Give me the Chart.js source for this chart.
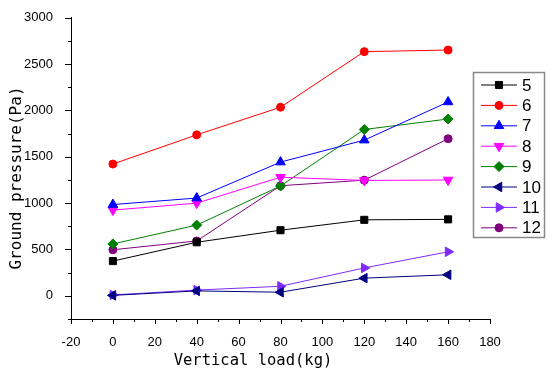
<!DOCTYPE html>
<html>
<head>
<meta charset="utf-8">
<script src="https://cdn.jsdelivr.net/npm/chart.js@4.4.0/dist/chart.umd.min.js"></script>
<style>
  html, body { margin: 0; padding: 0; background: #fff; }
  #wrap { width: 550px; height: 375px; }
</style>
</head>
<body>
<div id="wrap"><canvas id="chart" width="550" height="375"></canvas></div>
<script>
const loads = [0, 40, 80, 120, 160];
const xTicks = [-20, 0, 20, 40, 60, 80, 100, 120, 140, 160, 180];
const yTicks = [0, 500, 1000, 1500, 2000, 2500, 3000];

const seriesNames = ['5', '6', '7', '8', '9', '10', '11', '12'];
const s5 = [375, 578, 708, 820, 825];
const s6 = [1422, 1737, 2035, 2635, 2652];
const s7 = [985, 1055, 1443, 1680, 2092];
const s8 = [925, 1000, 1280, 1245, 1250];
const s9 = [560, 763, 1185, 1795, 1908];
const s10 = [5, 53, 39, 191, 227];
const s11 = [10, 62, 103, 301, 475];
const s12 = [497, 592, 1188, 1248, 1695];

const colors = ['#000000', '#ff0000', '#0000ff', '#ff00ff', '#008000', '#000080', '#7f2bff', '#800080'];
const shapes = ['rect', 'circle', 'triangle', 'triangle', 'rectRot', 'triangle', 'triangle', 'circle'];
const rotations = [0, 0, 0, 180, 0, -90, 90, 0];
const radii = [5, 4, 5.5, 5.5, 5, 5.5, 5.5, 4];

const allSeries = [s5, s6, s7, s8, s9, s10, s11, s12];

const datasets = allSeries.map((vals, i) => ({
    label: seriesNames[i],
    data: vals.map((v, j) => ({ x: loads[j], y: v })),
    borderColor: colors[i],
    backgroundColor: colors[i],
    borderWidth: 1,
    pointStyle: shapes[i],
    rotation: rotations[i],
    pointRadius: radii[i],
    pointBorderWidth: 1,
    tension: 0
}));

// tick marks (major + minor), axis titles and legend box drawn by hand
const decorPlugin = {
    id: 'decor',
    afterDraw(chart) {
        const ctx = chart.ctx;
        const xs = chart.scales.x, ys = chart.scales.y;
        const area = chart.chartArea;
        ctx.save();
        ctx.strokeStyle = '#000';
        ctx.lineWidth = 1;
        ctx.beginPath();
        xTicks.forEach((v, i) => {
            const px = Math.round(xs.getPixelForValue(v)) + 0.5;
            ctx.moveTo(px, area.bottom); ctx.lineTo(px, area.bottom + 5);
            if (i < xTicks.length - 1) {
                const mx = Math.round(xs.getPixelForValue((v + xTicks[i + 1]) / 2)) + 0.5;
                ctx.moveTo(mx, area.bottom); ctx.lineTo(mx, area.bottom + 3);
            }
        });
        yTicks.forEach((v, i) => {
            const py = Math.round(ys.getPixelForValue(v)) + 0.5;
            ctx.moveTo(area.left, py); ctx.lineTo(area.left - 6, py);
            if (i < yTicks.length - 1) {
                const my = Math.round(ys.getPixelForValue((v + yTicks[i + 1]) / 2)) + 0.5;
                ctx.moveTo(area.left, my); ctx.lineTo(area.left - 3, my);
            }
        });
        const ly = Math.round(ys.getPixelForValue(-250)) + 0.5;
        ctx.moveTo(area.left, ly); ctx.lineTo(area.left - 3, ly);
        ctx.stroke();

        // axis titles
        ctx.fillStyle = '#000';
        ctx.textAlign = 'center';
        ctx.textBaseline = 'middle';
        ctx.font = '15.5px "DejaVu Sans Mono"';
        ctx.fillText('Vertical load(kg)', 253, 361);
        ctx.translate(17, 178);
        ctx.rotate(-Math.PI / 2);
        ctx.font = '16px "DejaVu Sans Mono"';
        ctx.fillText('Ground pressure(Pa)', 0, 0);
        ctx.restore();

        // legend box
        ctx.save();
        ctx.fillStyle = '#fff';
        ctx.fillRect(473.5, 72.5, 71, 165);
        ctx.strokeStyle = '#888';
        ctx.lineWidth = 1.5;
        ctx.strokeRect(473.5, 72.5, 71, 165);
        chart.data.datasets.forEach((ds, i) => {
            const y = 85 + i * 20.4;
            ctx.strokeStyle = ds.borderColor;
            ctx.lineWidth = 1;
            ctx.beginPath();
            ctx.moveTo(481, y); ctx.lineTo(517, y);
            ctx.stroke();
            ctx.fillStyle = ds.backgroundColor;
            Chart.helpers.drawPoint(ctx, {
                pointStyle: ds.pointStyle, rotation: ds.rotation,
                radius: ds.pointRadius, borderWidth: 1
            }, 499, y);
            ctx.fillStyle = '#000';
            ctx.font = '17px "Liberation Sans", Arial';
            ctx.textAlign = 'left';
            ctx.textBaseline = 'middle';
            ctx.fillText(ds.label, 522, y + 1);
        });
        ctx.restore();
    }
};

new Chart(document.getElementById('chart').getContext('2d'), {
    type: 'line',
    data: { datasets: datasets },
    options: {
        responsive: false,
        animation: false,
        layout: { padding: { left: 0, top: 13, right: 60, bottom: 0 } },
        plugins: {
            legend: { display: false },
            tooltip: { enabled: false }
        },
        scales: {
            x: {
                type: 'linear',
                min: -20,
                max: 180,
                afterBuildTicks: s => { s.ticks = xTicks.map(v => ({ value: v })); },
                afterFit: s => { s.height = 56; },
                grid: { display: false },
                border: { display: true, color: '#000', width: 1 },
                ticks: {
                    padding: 8,
                    maxRotation: 0,
                    color: '#000',
                    callback: v => String(v),
                    font: { family: '"Liberation Sans", Arial', size: 13 }
                }
            },
            y: {
                type: 'linear',
                min: -250,
                max: 3000,
                afterBuildTicks: s => { s.ticks = yTicks.map(v => ({ value: v })); },
                afterFit: s => { s.width = 71; },
                grid: { display: false },
                border: { display: true, color: '#000', width: 1 },
                ticks: {
                    padding: 10,
                    color: '#000',
                    callback: v => String(v),
                    font: { family: '"Liberation Sans", Arial', size: 13 }
                }
            }
        }
    },
    plugins: [decorPlugin]
});
</script>
</body>
</html>
